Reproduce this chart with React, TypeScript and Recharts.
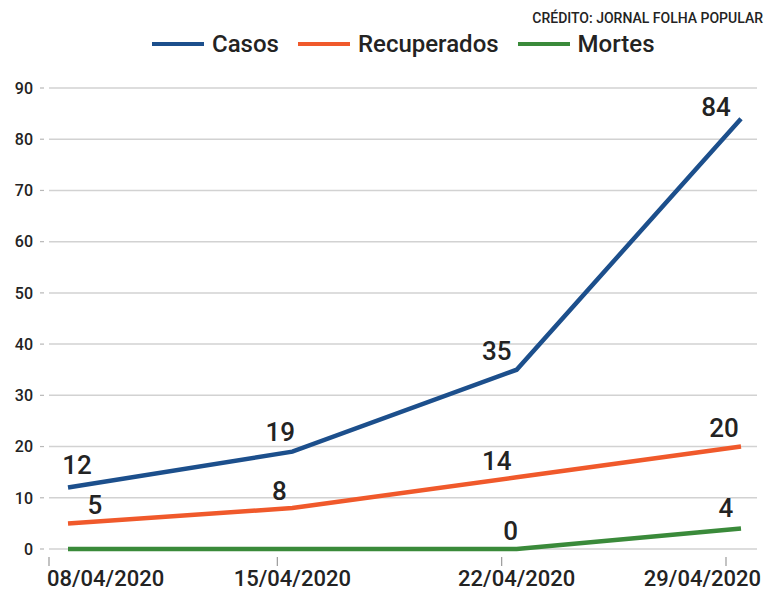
import React from "react";
import { LineChart, Line, XAxis, YAxis, CartesianGrid, Legend, LabelList } from "recharts";

const dates = ["08/04/2020", "15/04/2020", "22/04/2020", "29/04/2020"];
const casos = [12, 19, 35, 84];
const recuperados = [5, 8, 14, 20];
const mortes = [0, 0, 0, 4];
const yTicks = [0, 10, 20, 30, 40, 50, 60, 70, 80, 90];

const seriesInfo = [
  { key: "casos", name: "Casos", color: "#1c4f8c" },
  { key: "recuperados", name: "Recuperados", color: "#f0592b" },
  { key: "mortes", name: "Mortes", color: "#3a8a3a" },
];

// label offsets (dx, lift) per series per point — styling only
const labelShift: Record<string, [number, number][]> = {
  casos: [[9, 14], [-12, 11], [-20, 10], [-25, 3]],
  recuperados: [[27, 9], [-13, 8], [-20, 7], [-17, 10]],
  mortes: [[0, 0], [0, 0], [-6, 9], [-15, 12]],
};
const hideLabel: Record<string, boolean[]> = {
  casos: [false, false, false, false],
  recuperados: [false, false, false, false],
  mortes: [true, true, false, false],
};

const data = dates.map((d, i) => ({
  date: d,
  casos: casos[i],
  recuperados: recuperados[i],
  mortes: mortes[i],
}));

const FONT = "Roboto, 'Noto Sans', sans-serif";
const TXT = "#232323";

const makeLabel = (key: string) => (props: any) => {
  const { x, y, value, index } = props;
  if (hideLabel[key][index]) return null;
  const [dx, lift] = labelShift[key][index];
  return (
    <text
      x={x + dx}
      y={y - lift}
      textAnchor="middle"
      fontFamily={FONT}
      fontSize={26}
      fontWeight={500}
      fill={TXT}
    >
      {value}
    </text>
  );
};

const XTick = (props: any) => {
  const { x, y, payload, index } = props;
  const last = dates.length - 1;
  let anchor: "start" | "middle" | "end" = "middle";
  let tx = x;
  if (index === 0) {
    anchor = "start";
    tx = x - 21;
  } else if (index === last) {
    anchor = "end";
    tx = x + 20;
  }
  const markX = index === 0 ? x - 19 : x - 15;
  return (
    <g>
      <line x1={markX} x2={markX} y1={y} y2={y + 9} stroke="#9a9a9a" strokeWidth={1.2} />
      <text
        x={tx}
        y={y + 29}
        textAnchor={anchor}
        fontFamily={FONT}
        fontSize={22}
        fontWeight={500}
        fill={TXT}
      >
        {payload.value}
      </text>
    </g>
  );
};

const YTick = (props: any) => {
  const { x, y, payload } = props;
  return (
    <g>
      <line x1={x - 9} x2={x - 5} y1={y} y2={y} stroke="#b8b8b8" strokeWidth={1.2} />
      <text
        x={x - 16}
        y={y}
        dy="0.36em"
        textAnchor="end"
        fontFamily={FONT}
        fontSize={16}
        fontWeight={500}
        fill={TXT}
      >
        {payload.value}
      </text>
    </g>
  );
};

const LegendContent = () => (
  <div style={{ display: "flex", alignItems: "center", fontFamily: FONT }}>
    {seriesInfo.map((s, i) => (
      <div
        key={s.key}
        style={{ display: "flex", alignItems: "center", marginRight: i < seriesInfo.length - 1 ? 19 : 0 }}
      >
        <div style={{ width: 52, height: 4, background: s.color, marginRight: 8 }} />
        <span style={{ fontSize: 24, fontWeight: 500, color: TXT, lineHeight: "28px" }}>{s.name}</span>
      </div>
    ))}
  </div>
);

export default function App() {
  return (
    <div style={{ position: "absolute", left: 0, top: 0, width: 766, height: 590, background: "#fff" }}>
      <LineChart
        width={766}
        height={590}
        data={data}
        margin={{ top: 88, right: 9, left: 0, bottom: 0 }}
      >
        <CartesianGrid vertical={false} stroke="#d2d2d2" strokeWidth={1.5} />
        <XAxis
          dataKey="date"
          height={41}
          padding={{ left: 19, right: 16 }}
          axisLine={false}
          tickLine={false}
          tick={<XTick />}
          interval={0}
        />
        <YAxis
          width={49}
          domain={[0, 90]}
          ticks={yTicks}
          axisLine={false}
          tickLine={false}
          tickSize={0}
          tickMargin={0}
          tick={<YTick />}
          interval={0}
        />
        <Legend
          verticalAlign="middle"
          align="center"
          layout="horizontal"
          content={<LegendContent />}
          wrapperStyle={{ position: "absolute", top: 30, left: 152, width: 560 }}
        />
        {seriesInfo.map((s) => (
          <Line
            key={s.key}
            type="linear"
            dataKey={s.key}
            name={s.name}
            stroke={s.color}
            strokeWidth={4.5}
            dot={false}
            activeDot={false}
            isAnimationActive={false}
          >
            <LabelList dataKey={s.key} content={makeLabel(s.key)} />
          </Line>
        ))}
      </LineChart>
      <svg
        width={766}
        height={40}
        style={{ position: "absolute", left: 0, top: 0, pointerEvents: "none" }}
      >
        <text
          x={763}
          y={23}
          textAnchor="end"
          fontFamily={FONT}
          fontSize={14}
          fontWeight={500}
          fill={TXT}
        >
          CRÉDITO: JORNAL FOLHA POPULAR
        </text>
      </svg>
    </div>
  );
}
